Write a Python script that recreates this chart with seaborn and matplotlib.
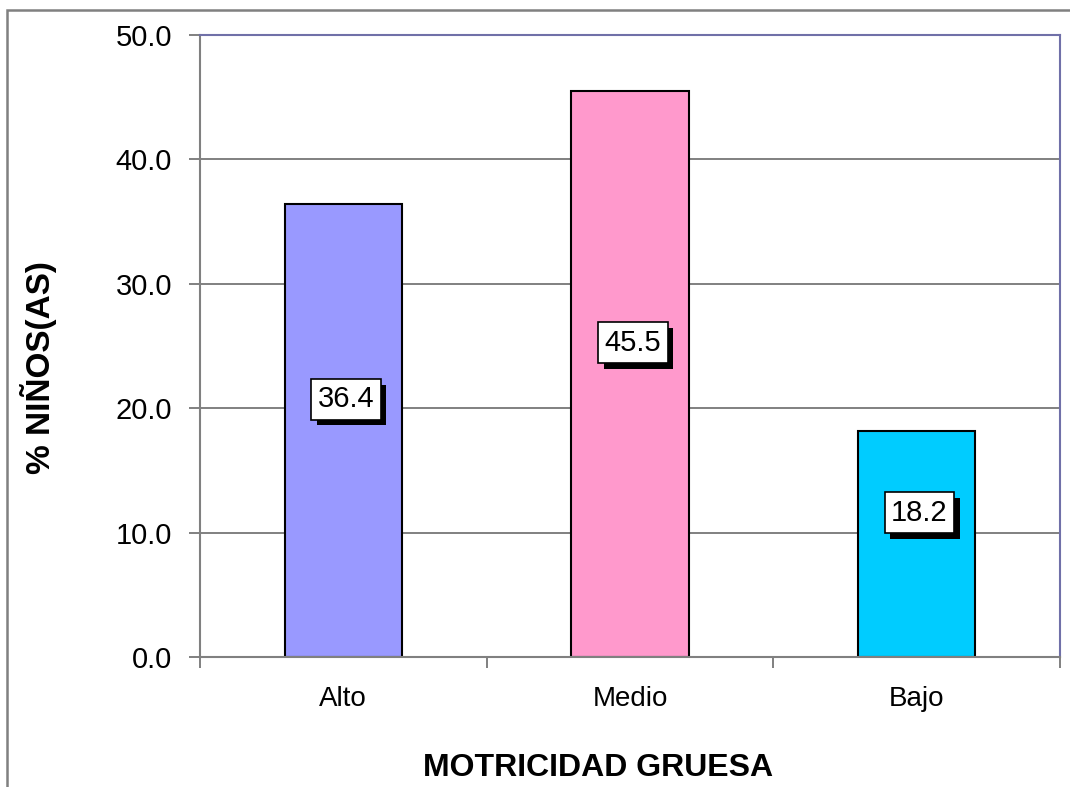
import numpy as np
import pandas as pd
import matplotlib
matplotlib.use("Agg")
import matplotlib.pyplot as plt
import matplotlib.patheffects as pe
from matplotlib.patches import Rectangle
import seaborn as sns

# data
categories = ["Alto", "Medio", "Bajo"]
percentages = [36.4, 45.5, 18.2]
bar_colors = ["#9999FF", "#FF99CC", "#00CCFF"]
y_ticks = [0, 10, 20, 30, 40, 50]

df = pd.DataFrame({"nivel": categories, "pct": percentages})

sns.set_theme(style="white")
plt.rcParams["font.family"] = ["Liberation Sans", "DejaVu Sans"]
plt.rcParams["text.color"] = "black"
plt.rcParams["axes.labelcolor"] = "black"
plt.rcParams["xtick.color"] = "black"
plt.rcParams["ytick.color"] = "black"

fig = plt.figure(figsize=(10.7, 7.87), dpi=100)
ax = fig.add_axes([0.1869, 0.1652, 0.8037, 0.7903])

sns.barplot(data=df, x="nivel", y="pct", hue="nivel", palette=bar_colors,
            edgecolor="black", linewidth=1.5, width=0.41, legend=False,
            saturation=1, ax=ax)

ax.set_ylim(0, 50)
ax.set_xlim(-0.5, 2.5)
ax.set_yticks(y_ticks)
ax.set_yticklabels([f"{v:.1f}" for v in y_ticks])
ax.yaxis.grid(True, color="#808080", linewidth=1.4)
ax.set_axisbelow(True)

# tick marks between categories, labels at the centers
ax.set_xticks(np.arange(-0.5, 3, 1), minor=True)
ax.tick_params(axis="x", which="major", length=0, pad=21, labelsize=20,
               labelcolor="black")
ax.tick_params(axis="x", which="minor", length=8, width=1.4, color="#808080",
               direction="out", bottom=True)
ax.tick_params(axis="y", length=8, width=1.4, color="#808080", direction="out",
               left=True, pad=12, labelsize=21, labelcolor="black")

for side in ["left", "bottom"]:
    ax.spines[side].set_color("#808080")
    ax.spines[side].set_linewidth(1.5)
for side in ["top", "right"]:
    ax.spines[side].set_color("#7070A8")
    ax.spines[side].set_linewidth(1.5)

ax.set_xlabel("MOTRICIDAD GRUESA", fontsize=23, fontweight="bold")
ax.set_ylabel("% NIÑOS(AS)", fontsize=24, fontweight="bold")
ax.xaxis.set_label_coords(0.463, -0.154)
ax.yaxis.set_label_coords(-0.166, 0.465)

# value boxes with drop shadow
for i, v in enumerate(percentages):
    t = ax.text(i + 0.01, v / 2 + 2.5, f"{v:.1f}", ha="center", va="center",
                fontsize=21, color="black",
                bbox=dict(boxstyle="square,pad=0.22", facecolor="white",
                          edgecolor="black", linewidth=1.2))
    t.get_bbox_patch().set_path_effects([
        pe.SimplePatchShadow(offset=(4, -4), shadow_rgbFace="black", alpha=1),
        pe.Normal()])

# outer chart frame
fig.patches.append(Rectangle((0.0065, -0.1), 1.2, 1.087, transform=fig.transFigure,
                             fill=False, edgecolor="#808080", linewidth=1.8))

fig.savefig("out.png", dpi=100)
